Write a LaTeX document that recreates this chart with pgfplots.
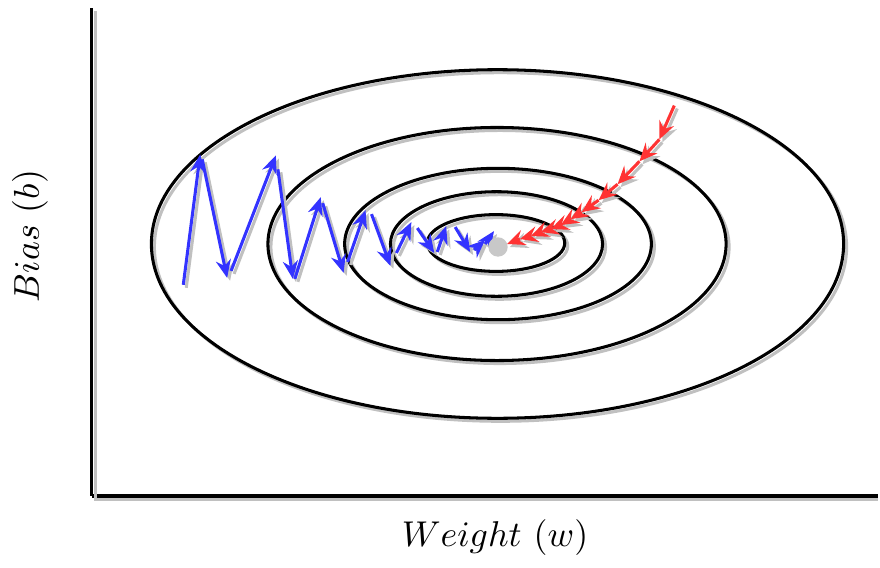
\documentclass[border=0pt]{standalone}
\usepackage{pgfplots}
\usepackage{pgfplotstable}
\pgfplotsset{compat=1.18}
\usetikzlibrary{arrows.meta}
\definecolor{gdblue}{RGB}{51,51,255}
\definecolor{gdred}{RGB}{255,51,51}
\definecolor{shadowgray}{RGB}{192,192,192}
\definecolor{dotgray}{RGB}{200,200,200}

% blue path (plain gradient descent): start point and step
\pgfplotstableread{
x y u v
182 273 17 131
201 399 25 -119
230 287 45 116
277 389 15 -110
294 279 26 82
322 355 21 -70
347 296 18 52
371 344 19 -52
396 305 15 31
417 330 17 -25
437 306 9 26
455 331 15 -25
474 308 11 10
485 314 9 13
}\bluepath

% red path (adaptive optimiser): start point and step
\pgfplotstableread{
x y u v
675 453 -15 -34
660 419 -20 -22
640 397 -22 -23
618 374 -19 -16
599 358 -17 -12
582 346 -11 -7
571 339 -10 -6
561 333 -10 -4
551 329 -10 -3
541 326 -10 -4
531 322 -11 -3
520 319 -13 -5
}\redpath

\begin{document}
\begin{tikzpicture}
\begin{axis}[
  x=0.27778pt, y=0.27778pt,
  xmin=90, xmax=880, ymin=61, ymax=551,
  axis lines=left,
  axis line style={-, line width=0.85pt},
  xtick=\empty, ytick=\empty,
  clip=false,
  xlabel={$Weight\ (w)$},
  ylabel={$Bias\ (b)$},
  xlabel style={at={(axis description cs:0.5127,-0.0857)}, anchor=center},
  ylabel style={at={(axis description cs:-0.0785,0.5327)}, anchor=center},
]
\path (axis cs:0,0) rectangle (axis cs:880,559);
% axis shadow
\draw[shadowgray, line width=0.85pt] (axis cs:93.5,548) -- (axis cs:93.5,57.5) -- (axis cs:880,57.5);

% contour ellipses with shadows
\draw[shadowgray, line width=0.85pt] (axis cs:500.5,311) ellipse [x radius=347.5, y radius=175];
\draw[black, line width=0.85pt] (axis cs:497.5,314) ellipse [x radius=347.5, y radius=175];
\draw[shadowgray, line width=0.85pt] (axis cs:500,311) ellipse [x radius=230, y radius=117];
\draw[black, line width=0.85pt] (axis cs:497,314) ellipse [x radius=230, y radius=117];
\draw[shadowgray, line width=0.85pt] (axis cs:501,311) ellipse [x radius=154, y radius=76];
\draw[black, line width=0.85pt] (axis cs:498,314) ellipse [x radius=154, y radius=76];
\draw[shadowgray, line width=0.85pt] (axis cs:499.5,311) ellipse [x radius=106.5, y radius=52.5];
\draw[black, line width=0.85pt] (axis cs:496.5,314) ellipse [x radius=106.5, y radius=52.5];
\draw[shadowgray, line width=0.85pt] (axis cs:499,312) ellipse [x radius=69, y radius=28.5];
\draw[black, line width=0.85pt] (axis cs:496,315) ellipse [x radius=69, y radius=28.5];

% minimum
\addplot[only marks, mark=*, mark size=2.5pt, color=dotgray] coordinates {(498,311)};

% blue path
\addplot[shadowgray, line width=0.85pt, -{Stealth[length=5pt,width=4.2pt]},
  quiver={u=\thisrow{u}, v=\thisrow{v}}]
  table[x expr=\thisrow{x}+3, y expr=\thisrow{y}-3] {\bluepath};
\addplot[gdblue, line width=0.85pt, -{Stealth[length=5pt,width=4.2pt]},
  quiver={u=\thisrow{u}, v=\thisrow{v}}]
  table[x=x, y=y] {\bluepath};

% red path
\addplot[shadowgray, line width=0.85pt, -{Stealth[length=5pt,width=4.4pt,inset=1.8pt]},
  quiver={u=\thisrow{u}, v=\thisrow{v}}]
  table[x expr=\thisrow{x}+3, y expr=\thisrow{y}-3] {\redpath};
\addplot[gdred, line width=0.85pt, -{Stealth[length=5pt,width=4.4pt,inset=1.8pt]},
  quiver={u=\thisrow{u}, v=\thisrow{v}}]
  table[x=x, y=y] {\redpath};
\end{axis}
\end{tikzpicture}
\end{document}
